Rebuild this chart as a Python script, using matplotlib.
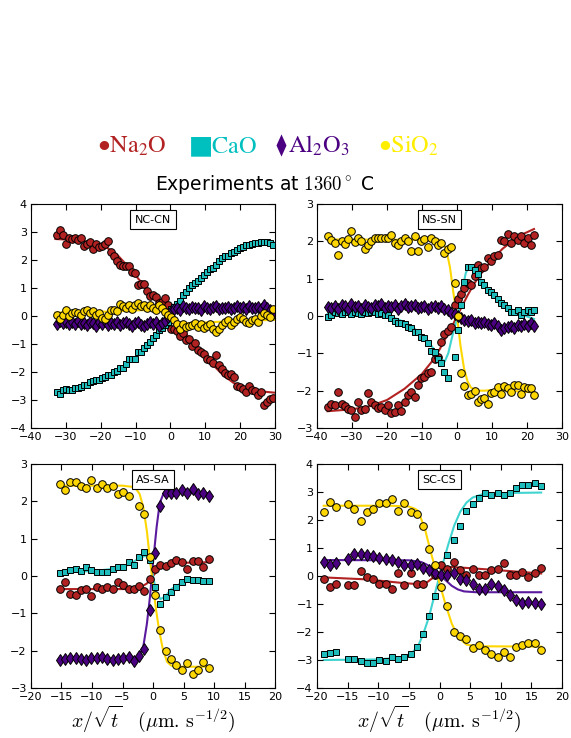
import numpy as np
import matplotlib
matplotlib.use('Agg')
import matplotlib.pyplot as plt
from matplotlib.lines import Line2D
from matplotlib.path import Path

plt.rcParams['mathtext.fontset'] = 'cm'
plt.rcParams['font.family'] = 'DejaVu Sans'

# ---- NC-CN profile ----
x_nc = [-32.5, -31.6, -30.8, -29.9, -29.0, -28.2, -27.3, -26.5, -25.6, -24.7,
        -23.9, -23.0, -22.1, -21.3, -20.4, -19.6, -18.7, -17.8, -17.0, -16.1,
        -15.3, -14.4, -13.5, -12.7, -11.8, -10.9, -10.1, -9.2, -8.4, -7.5,
        -6.6, -5.8, -4.9, -4.1, -3.2, -2.3, -1.5, -0.6, 0.3, 1.1,
        2.0, 2.8, 3.7, 4.6, 5.4, 6.3, 7.1, 8.0, 8.9, 9.7,
        10.6, 11.4, 12.3, 13.2, 14.0, 14.9, 15.7, 16.6, 17.5, 18.3,
        19.2, 20.0, 20.9, 21.8, 22.6, 23.5, 24.3, 25.2, 26.1, 26.9,
        27.8, 28.6, 29.5]
na_nc = [2.90, 3.06, 2.90, 2.57, 2.78, 2.75, 2.78, 2.70, 2.78, 2.51,
         2.58, 2.63, 2.39, 2.58, 2.48, 2.51, 2.58, 2.67, 2.27, 2.13,
         1.97, 1.83, 1.80, 1.77, 1.80, 1.56, 1.53, 1.09, 1.13, 1.13,
         0.90, 0.73, 0.75, 0.69, 0.45, 0.51, 0.63, 0.39, -0.48, -0.48,
         -0.53, -0.72, -0.62, -0.84, -0.82, -1.06, -0.98, -1.22, -1.30, -1.34,
         -1.52, -1.58, -1.67, -1.40, -1.76, -1.90, -2.02, -2.11, -2.08, -2.17,
         -2.50, -2.53, -2.61, -2.71, -2.51, -2.63, -2.69, -2.81, -2.73, -3.19,
         -3.07, -2.95, -2.93]
ca_nc = [-2.71, -2.77, -2.65, -2.59, -2.65, -2.65, -2.57, -2.57, -2.53, -2.47,
         -2.47, -2.35, -2.33, -2.29, -2.27, -2.21, -2.17, -2.11, -2.11, -1.99,
         -1.97, -1.87, -1.87, -1.73, -1.52, -1.52, -1.52, -1.28, -1.28, -1.16,
         -1.04, -0.92, -0.80, -0.68, -0.50, -0.42, -0.32, -0.20, 0.24, 0.33,
         0.43, 0.54, 0.75, 0.87, 1.01, 1.11, 1.17, 1.25, 1.37, 1.47,
         1.56, 1.68, 1.73, 1.83, 1.95, 2.07, 2.13, 2.16, 2.24, 2.30,
         2.36, 2.42, 2.45, 2.52, 2.54, 2.57, 2.59, 2.60, 2.63, 2.66,
         2.64, 2.60, 2.52]
al_nc = [-0.30, -0.18, -0.25, -0.20, -0.28, -0.22, -0.30, -0.19, -0.27, -0.24,
         -0.32, -0.20, -0.26, -0.34, -0.22, -0.28, -0.19, -0.31, -0.24, -0.27,
         -0.21, -0.33, -0.25, -0.22, -0.30, -0.37, -0.26, -0.23, -0.31, -0.35,
         -0.27, -0.22, -0.29, -0.20, -0.34, -0.26, -0.18, -0.05, 0.18, 0.25,
         0.30, 0.22, 0.35, 0.28, 0.24, 0.33, 0.27, 0.30, 0.22, 0.34,
         0.29, 0.26, 0.31, 0.37, 0.25, 0.30, 0.27, 0.33, 0.24, 0.29,
         0.35, 0.28, 0.31, 0.25, 0.36, 0.27, 0.30, 0.33, 0.26, 0.38,
         0.29, 0.22, 0.12]
si_nc = [0.02, -0.12, 0.05, 0.20, 0.00, 0.12, 0.15, 0.12, 0.02, 0.17,
         0.20, 0.12, 0.18, 0.05, 0.10, -0.08, -0.12, 0.05, 0.20, 0.22,
         0.18, 0.42, 0.35, 0.30, 0.38, 0.25, 0.40, 0.45, 0.35, 0.38,
         0.30, 0.40, 0.28, 0.22, 0.38, 0.30, 0.15, 0.05, -0.05, -0.15,
         -0.28, -0.45, -0.30, -0.40, -0.35, -0.32, -0.25, -0.38, -0.30, -0.42,
         -0.35, -0.28, -0.45, -0.58, -0.45, -0.32, -0.20, -0.15, -0.32, -0.20,
         -0.10, -0.05, -0.10, -0.20, -0.25, -0.15, -0.12, -0.20, 0.00, 0.10,
         0.05, -0.05, 0.25]
# fitted curves
fx_na_nc = [-33, -30, -25, -20, -17, -15, -12, -10, -8, -6, -4, -2, 0, 2, 4, 6, 8, 10, 12, 15, 18, 20, 25, 30]
fy_na_nc = [2.75, 2.73, 2.68, 2.55, 2.35, 2.15, 1.75, 1.45, 1.15, 0.85, 0.58, 0.30, 0.0, -0.30,
            -0.58, -0.85, -1.15, -1.45, -1.72, -2.10, -2.38, -2.50, -2.68, -2.74]
fx_ca_nc = fx_na_nc
fy_ca_nc = [-2.68, -2.62, -2.50, -2.28, -2.10, -1.95, -1.65, -1.45, -1.22, -0.95, -0.65, -0.35, 0.0, 0.38,
            0.72, 1.02, 1.28, 1.52, 1.72, 1.98, 2.22, 2.35, 2.55, 2.62]
fx_al_nc = [-33, -4, -2, -1, -0.5, 0, 0.5, 1, 2, 4, 30]
fy_al_nc = [-0.27, -0.27, -0.25, -0.2, -0.12, 0.0, 0.12, 0.2, 0.25, 0.28, 0.28]
fx_si_nc = [-33, -20, -10, -5, -3, -2, -1, 0, 1, 2, 4, 10, 20, 30]
fy_si_nc = [0.12, 0.15, 0.2, 0.22, 0.2, 0.15, 0.05, -0.1, -0.2, -0.25, -0.27, -0.23, -0.17, -0.14]

# ---- NS-SN profile ----
x_ns = [-36.8, -35.9, -34.9, -34.0, -33.0, -32.1, -31.1, -30.2, -29.2, -28.3,
        -27.3, -26.4, -25.4, -24.5, -23.5, -22.6, -21.6, -20.7, -19.7, -18.8,
        -17.8, -16.9, -15.9, -15.0, -14.0, -13.1, -12.1, -11.2, -10.2, -9.3,
        -8.3, -7.4, -6.4, -5.5, -4.5, -3.6, -2.6, -1.7, -0.7, 0.2,
        1.2, 2.1, 3.1, 4.0, 5.0, 5.9, 6.9, 7.8, 8.8, 9.7,
        10.7, 11.6, 12.6, 13.5, 14.5, 15.4, 16.4, 17.3, 18.3, 19.2,
        20.2, 21.1, 22.1]
na_ns = [-2.45, -2.35, -2.39, -2.03, -2.35, -2.42, -2.48, -2.52, -2.70, -2.30,
         -2.52, -2.48, -2.05, -2.30, -2.39, -2.46, -2.43, -2.52, -2.39, -2.61,
         -2.57, -2.39, -2.55, -2.30, -2.12, -2.03, -2.17, -1.85, -1.66, -1.63,
         -1.54, -1.49, -1.16, -1.10, -0.69, -0.49, -0.40, -0.29, 0.30, 0.45,
         0.60, 0.74, 0.88, 0.83, 1.06, 1.37, 1.28, 1.32, 1.55, 1.46,
         1.60, 1.64, 2.04, 2.00, 2.19, 1.95, 2.13, 2.04, 2.13, 1.95,
         2.09, 1.91, 2.16]
ca_ns = [-0.02, 0.03, 0.12, 0.08, 0.05, 0.10, 0.12, 0.06, 0.12, 0.08,
         0.05, 0.10, 0.07, 0.12, 0.10, 0.05, 0.08, 0.03, 0.03, -0.05,
         -0.13, -0.20, -0.20, -0.22, -0.29, -0.33, -0.42, -0.42, -0.55, -0.60,
         -0.71, -0.93, -0.96, -1.15, -1.25, -1.50, -1.66, np.nan, -1.09, -0.38,
         0.30, 0.90, 1.32, 1.32, 1.24, 1.12, 0.92, 0.82, 0.70, 0.65,
         0.56, 0.46, 0.34, 0.30, 0.22, 0.12, 0.10, 0.16, 0.03, 0.12,
         0.16, 0.10, 0.16]
al_ns = [0.25, 0.22, 0.28, 0.18, 0.30, 0.26, 0.20, 0.32, 0.24, 0.27,
         0.19, 0.29, 0.25, 0.22, 0.30, 0.26, 0.33, 0.21, 0.28, 0.24,
         0.30, 0.20, 0.27, 0.31, 0.23, 0.26, 0.29, 0.21, 0.25, 0.28,
         0.19, 0.24, 0.27, 0.22, 0.26, 0.18, 0.15, 0.08, 0.05, 0.00,
         -0.06, -0.10, -0.14, -0.12, -0.18, -0.15, -0.20, -0.17, -0.22, -0.25,
         -0.20, -0.28, -0.38, -0.32, -0.30, -0.26, -0.31, -0.24, -0.28, -0.22,
         -0.27, -0.20, -0.28]
si_ns = [2.13, 2.04, 1.95, 1.64, 2.00, 1.92, 2.06, 2.28, 1.98, 2.09,
         2.00, 1.80, 1.90, 2.00, 2.10, 2.08, 2.08, 2.10, 2.08, 2.18,
         1.95, 1.90, 2.00, 2.10, 2.00, 1.75, 2.13, 1.75, 2.01, 2.07,
         1.86, 2.08, 2.00, 1.89, 1.95, 1.68, 1.80, 1.84, 0.88, 0.00,
         -1.54, -1.87, -2.12, -2.08, -2.00, -2.30, -2.23, -2.19, -2.37, -2.05,
         -2.03, -1.90, -2.10, -1.88, -1.94, -2.03, -1.84, -1.85, -2.10, -1.90,
         -1.94, -1.93, -2.12]
fx_na_ns = [-37, -30, -25, -20, -15, -10, -7, -5, -3, -1, 0, 1, 3, 5, 7, 10, 13, 16, 19, 22]
fy_na_ns = [-2.55, -2.5, -2.42, -2.25, -1.95, -1.55, -1.2, -0.9, -0.55, -0.2, 0.0, 0.18,
            0.55, 0.88, 1.15, 1.5, 1.8, 2.02, 2.2, 2.33]
fx_ca_ns = [-37, -25, -20, -17, -15, -12, -10, -8, -6, -4.5, -3.5, -2.5, -1.5, -0.5, 0.5,
            1.5, 2.5, 3.5, 5, 7, 10, 13, 16, 19, 22]
fy_ca_ns = [0.05, 0.04, 0.0, -0.08, -0.17, -0.35, -0.52, -0.72, -0.95, -1.15, -1.22, -1.0,
            -0.6, -0.25, 0.15, 0.7, 1.15, 1.33, 1.22, 0.95, 0.62, 0.35, 0.15, 0.02, -0.08]
fx_al_ns = [-37, -6, -4, -2, -1, 0, 1, 2, 4, 6, 22]
fy_al_ns = [0.26, 0.26, 0.24, 0.17, 0.1, 0.0, -0.1, -0.18, -0.24, -0.26, -0.27]
fx_si_ns = [-37, -5, -4, -3, -2, -1, 0, 1, 2, 3, 4, 6, 8, 10, 15, 22]
fy_si_ns = [2.05, 2.04, 1.95, 1.75, 1.3, 0.6, 0.0, -0.8, -1.4, -1.75, -1.92, -2.0, -2.0,
            -1.98, -2.0, -2.05]

# ---- AS-SA profile ----
x_as = [-15.3, -14.4, -13.6, -12.7, -11.8, -11.0, -10.1, -9.2, -8.3, -7.5,
        -6.6, -5.7, -4.9, -4.0, -3.1, -2.3, -1.4, -0.5, 0.4, 1.2,
        2.1, 3.0, 3.8, 4.7, 5.6, 6.5, 7.3, 8.2, 9.1]
na_as = [-0.34, -0.17, -0.47, -0.51, -0.38, -0.36, -0.54, -0.29, -0.36, -0.29,
         -0.36, -0.17, -0.25, -0.36, -0.36, -0.27, -0.40, -0.07, 0.20, 0.29,
         0.26, 0.34, 0.42, 0.38, 0.20, 0.40, 0.40, 0.25, 0.45]
ca_as = [0.07, 0.11, 0.17, 0.20, 0.14, 0.25, 0.17, 0.11, 0.11, 0.11,
         0.20, 0.23, 0.25, 0.38, 0.29, 0.51, 0.65, 0.42, -0.29, -0.74,
         -0.56, -0.42, -0.29, -0.16, -0.07, -0.11, -0.11, -0.14, -0.14]
al_as = [-2.24, -2.21, -2.20, -2.19, -2.22, -2.24, -2.20, -2.19, -2.17, -2.21,
         -2.24, -2.23, -2.20, -2.16, -2.28, -2.13, -1.96, -0.92, 0.62, 1.87,
         2.23, 2.23, 2.23, 2.30, 2.22, 2.32, 2.19, 2.22, 2.14]
si_as = [2.46, 2.31, 2.51, 2.52, 2.41, 2.35, 2.57, 2.35, 2.46, 2.35,
         2.41, 2.19, 2.24, 2.15, np.nan, 1.87, 1.65, 0.51, -0.51, -1.45,
         -2.00, -2.21, -2.39, -2.53, -2.32, -2.62, -2.51, -2.30, -2.46]
fx_na_as = [-15.3, -4, -2, -1, 0, 1, 2, 4, 9.3]
fy_na_as = [-0.35, -0.35, -0.3, -0.2, 0.0, 0.2, 0.3, 0.35, 0.37]
fx_ca_as = [-15.3, -10, -6, -4, -2.5, -1.2, -0.5, 0.0, 0.5, 1.2, 2.0, 3.0, 4.5, 6.0, 9.3]
fy_ca_as = [0.1, 0.13, 0.2, 0.3, 0.45, 0.55, 0.4, 0.0, -0.4, -0.62, -0.55, -0.35, -0.2, -0.14, -0.13]
fx_al_as = [-15.3, -4, -3, -2.3, -1.6, -1.0, -0.5, 0.0, 0.6, 1.1, 1.7, 2.3, 9.3]
fy_al_as = [-2.22, -2.22, -2.26, -2.15, -1.9, -1.28, -0.56, 0.35, 1.32, 1.95, 2.2, 2.25, 2.22]
fx_si_as = [-15.3, -5, -3, -2.2, -1.6, -1.0, -0.5, 0.0, 0.5, 1.0, 1.6, 2.3, 3.0, 4.0, 9.3]
fy_si_as = [2.42, 2.42, 2.38, 2.2, 1.85, 1.2, 0.45, -0.25, -0.9, -1.45, -1.95, -2.3, -2.4, -2.43, -2.43]

# ---- SC-CS profile ----
x_sc = [-18.9, -17.9, -16.9, -14.9, -13.9, -12.8, -11.8, -10.8, -9.8, -8.8,
        -7.8, -6.8, -5.8, -4.7, -3.7, -2.7, -1.7, -0.7, 0.3, 1.3,
        2.3, 3.4, 4.4, 5.4, 6.4, 7.4, 8.4, 9.5, 10.5, 11.5,
        12.5, 13.5, 14.5, 15.6, 16.6]
na_sc = [-0.09, -0.41, -0.29, -0.33, -0.33, 0.17, -0.03, -0.09, -0.29, -0.29,
         -0.45, 0.11, -0.33, 0.09, -0.29, -0.27, np.nan, 0.02, 0.39, 0.24,
         0.51, 0.21, 0.03, 0.24, 0.03, 0.03, 0.21, 0.24, 0.45, 0.03,
         0.03, 0.15, -0.03, 0.09, 0.30]
ca_sc = [-2.80, -2.74, -2.71, -2.98, -2.95, -3.03, -3.09, -3.09, -3.00, -3.03,
         -2.89, -2.95, -2.91, -2.80, -2.53, -2.06, -1.43, -0.71, np.nan, 0.74,
         1.30, 1.79, 2.33, 2.57, 2.80, 2.98, 2.89, 2.95, 2.89, 2.95,
         3.16, 3.25, 3.25, 3.31, 3.21]
al_sc = [0.51, 0.39, 0.45, 0.59, 0.80, 0.77, 0.75, 0.72, 0.63, 0.59,
         0.57, 0.51, 0.39, 0.39, 0.42, 0.30, 0.21, 0.12, 0.03, 0.03,
         0.11, -0.09, -0.15, -0.30, -0.48, -0.48, -0.27, -0.36, -0.51, -0.69,
         -0.86, -0.98, -0.92, -0.98, -1.00]
si_sc = [2.27, 2.65, 2.45, 2.57, 2.38, 1.97, 2.27, 2.38, 2.59, 2.59,
         2.74, 2.32, 2.59, 2.27, 2.23, 1.79, 0.96, 0.39, -0.39, -1.08,
         -2.00, -2.14, -2.24, -2.57, -2.45, -2.65, -2.77, -2.89, -2.71, -2.89,
         -2.53, -2.45, -2.41, -2.39, -2.63]
fx_na_sc = [-18.9, -12, -6, -3, -2, -1, 0, 1, 2, 5, 10, 16.6]
fy_na_sc = [-0.05, -0.12, -0.25, -0.3, -0.22, -0.05, 0.15, 0.3, 0.32, 0.28, 0.2, 0.09]
fx_ca_sc = [-18.9, -10, -6, -4.5, -3.5, -2.7, -1.7, -0.6, 0.35, 1.4, 2.4, 3.4, 4.4, 5.4, 7, 10, 16.6]
fy_ca_sc = [-3.0, -2.98, -2.9, -2.75, -2.5, -2.1, -1.45, -0.5, 0.3, 1.1, 1.8, 2.3, 2.62, 2.8,
            2.92, 2.96, 2.98]
fx_al_sc = [-18.9, -5, -3, -2, -1, 0, 1, 2, 3, 4, 6, 16.6]
fy_al_sc = [0.57, 0.56, 0.5, 0.4, 0.25, 0.05, -0.15, -0.35, -0.48, -0.55, -0.58, -0.58]
fx_si_sc = [-18.9, -8, -5, -4, -3.5, -2.4, -1.3, -0.2, 0.9, 2.0, 3.1, 4.4, 6, 16.6]
fy_si_sc = [2.51, 2.51, 2.48, 2.4, 2.33, 1.7, 0.75, -0.1, -0.95, -1.7, -2.2, -2.45, -2.51, -2.52]

oxides = ['Na2O', 'CaO', 'Al2O3', 'SiO2']
face_colors = {'Na2O': '#b22222', 'CaO': '#1fbcbc', 'Al2O3': '#4b0082', 'SiO2': '#ffd700'}
line_colors = {'Na2O': '#b22222', 'CaO': '#3fd4d0', 'Al2O3': '#5a1a9e', 'SiO2': '#ffd700'}
markers = {'Na2O': ('o', 5.5), 'CaO': ('s', 5.0), 'Al2O3': ('d', 6.5), 'SiO2': ('o', 5.5)}


def draw_panel(ax, name, x, pts, fits, xlim, ylim, xstep):
    # fitted curves underneath, measured points on top
    for ox in oxides:
        fx, fy = fits[ox]
        ax.plot(fx, fy, '-', color=line_colors[ox], lw=1.5, zorder=1)
    for ox in oxides:
        m, ms = markers[ox]
        ax.plot(x, pts[ox], m, ms=ms, mfc=face_colors[ox], mec='black',
                mew=0.7, ls='none', zorder=2)
    ax.set_xlim(*xlim)
    ax.set_ylim(*ylim)
    ax.set_xticks(np.arange(xlim[0], xlim[1] + 0.1, xstep))
    ax.set_yticks(np.arange(ylim[0], ylim[1] + 0.1, 1))
    ax.tick_params(direction='in', top=True, right=True, length=4, width=0.8,
                   labelsize=8, pad=3)
    for sp in ax.spines.values():
        sp.set_linewidth(0.8)
    ax.text(0.5, 0.93, name, transform=ax.transAxes, ha='center', va='center',
            fontsize=8, zorder=5,
            bbox=dict(boxstyle='square,pad=0.4', fc='white', ec='black', lw=0.8))


fig = plt.figure(figsize=(5.71, 7.38), dpi=100, facecolor='white')
W, H = 571.0, 738.0


def add_axes(left, top, right, bottom):
    return fig.add_axes([left / W, 1 - bottom / H, (right - left) / W, (bottom - top) / H])


ax1 = add_axes(31, 204, 275, 428)
ax2 = add_axes(317, 204, 562, 428)
ax3 = add_axes(31, 464, 275, 688)
ax4 = add_axes(317, 464, 562, 688)

draw_panel(ax1, 'NC-CN', x_nc,
           {'Na2O': na_nc, 'CaO': ca_nc, 'Al2O3': al_nc, 'SiO2': si_nc},
           {'Na2O': (fx_na_nc, fy_na_nc), 'CaO': (fx_ca_nc, fy_ca_nc),
            'Al2O3': (fx_al_nc, fy_al_nc), 'SiO2': (fx_si_nc, fy_si_nc)},
           (-40, 30), (-4, 4), 10)
draw_panel(ax2, 'NS-SN', x_ns,
           {'Na2O': na_ns, 'CaO': ca_ns, 'Al2O3': al_ns, 'SiO2': si_ns},
           {'Na2O': (fx_na_ns, fy_na_ns), 'CaO': (fx_ca_ns, fy_ca_ns),
            'Al2O3': (fx_al_ns, fy_al_ns), 'SiO2': (fx_si_ns, fy_si_ns)},
           (-40, 30), (-3, 3), 10)
draw_panel(ax3, 'AS-SA', x_as,
           {'Na2O': na_as, 'CaO': ca_as, 'Al2O3': al_as, 'SiO2': si_as},
           {'Na2O': (fx_na_as, fy_na_as), 'CaO': (fx_ca_as, fy_ca_as),
            'Al2O3': (fx_al_as, fy_al_as), 'SiO2': (fx_si_as, fy_si_as)},
           (-20, 20), (-3, 3), 5)
draw_panel(ax4, 'SC-CS', x_sc,
           {'Na2O': na_sc, 'CaO': ca_sc, 'Al2O3': al_sc, 'SiO2': si_sc},
           {'Na2O': (fx_na_sc, fy_na_sc), 'CaO': (fx_ca_sc, fy_ca_sc),
            'Al2O3': (fx_al_sc, fy_al_sc), 'SiO2': (fx_si_sc, fy_si_sc)},
           (-20, 20), (-4, 4), 5)

xlab = r'$x/\sqrt{t}\quad(\mu\mathrm{m.\,s^{-1/2}})$'
for ax in (ax3, ax4):
    ax.set_xlabel(xlab, fontsize=14.3, labelpad=1)

# colour key across the top; the diamond is drawn as a narrow marker
key_items = [('$\u2022\\mathrm{Na_2O}$', '#b22222', 97),
             (r'$\blacksquare\mathrm{CaO}$', '#00bfbf', 189),
             (r'$\mathrm{Al_2O_3}$', '#4b0082', 288),
             ('$\u2022\\mathrm{SiO_2}$', '#ffee00', 378)]
for label, col, px in key_items:
    fig.text(px / W, 1 - 153 / H, label, color=col, fontsize=17.5,
             math_fontfamily='stix', ha='left', va='baseline')
lozenge = Path([(0, 1), (0.45, 0), (0, -1), (-0.45, 0), (0, 1)],
               [Path.MOVETO, Path.LINETO, Path.LINETO, Path.LINETO, Path.CLOSEPOLY])
fig.add_artist(Line2D([281 / W], [1 - 145 / H], marker=lozenge, ms=16, color='#4b0082',
                      mec='#4b0082', mew=0, ls='none', transform=fig.transFigure))

fig.text(265 / W, 1 - 185 / H, r'Experiments at $1360^\circ$ C', fontsize=13.5,
         ha='center', va='center')

fig.savefig('out.png', dpi=100, facecolor='white')
